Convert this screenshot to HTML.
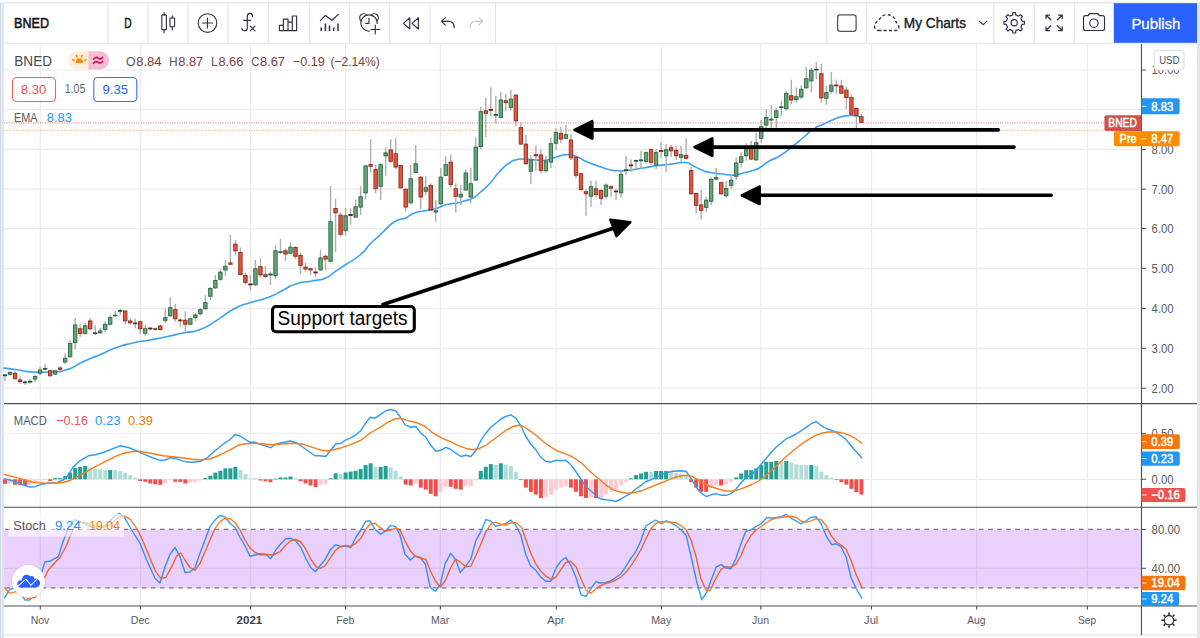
<!DOCTYPE html>
<html><head><meta charset="utf-8"><title>BNED chart</title>
<style>html,body{margin:0;padding:0}body{width:1200px;height:638px;overflow:hidden;background:#e8ebf2;font-family:"Liberation Sans", sans-serif}svg{position:absolute;left:0;top:0;display:block}text{font-family:"Liberation Sans", sans-serif}</style>
</head><body>
<svg width="1200" height="638" viewBox="0 0 1200 638">
<rect x="0" y="0" width="1200" height="638" fill="#ffffff"/>
<rect x="0" y="2.6" width="1.3" height="636" fill="#d3d8e5"/>
<rect x="1.3" y="2.6" width="2.7" height="636" fill="#e2e5ef"/>
<rect x="1197" y="2.4" width="3" height="636" fill="#e3e5eb"/>
<rect x="4" y="634" width="1193" height="2.2" fill="#eceef4"/>
<rect x="4" y="2.4" width="1193" height="1.1" fill="#e4e6ec"/>
<g stroke="#ececee" stroke-width="1.2">
<line x1="40.3" y1="44" x2="40.3" y2="606"/>
<line x1="140.5" y1="44" x2="140.5" y2="606"/>
<line x1="250.6" y1="44" x2="250.6" y2="606"/>
<line x1="345.6" y1="44" x2="345.6" y2="606"/>
<line x1="440.4" y1="44" x2="440.4" y2="606"/>
<line x1="556.2" y1="44" x2="556.2" y2="606"/>
<line x1="661.5" y1="44" x2="661.5" y2="606"/>
<line x1="760.8" y1="44" x2="760.8" y2="606"/>
<line x1="871.5" y1="44" x2="871.5" y2="606"/>
<line x1="976.7" y1="44" x2="976.7" y2="606"/>
<line x1="1087.4" y1="44" x2="1087.4" y2="606"/>
<line x1="4" y1="70" x2="1141.5" y2="70"/>
<line x1="4" y1="109.6" x2="1141.5" y2="109.6"/>
<line x1="4" y1="149.4" x2="1141.5" y2="149.4"/>
<line x1="4" y1="189.2" x2="1141.5" y2="189.2"/>
<line x1="4" y1="228.6" x2="1141.5" y2="228.6"/>
<line x1="4" y1="268.4" x2="1141.5" y2="268.4"/>
<line x1="4" y1="308.5" x2="1141.5" y2="308.5"/>
<line x1="4" y1="348.4" x2="1141.5" y2="348.4"/>
<line x1="4" y1="388.2" x2="1141.5" y2="388.2"/>
<line x1="4" y1="433.3" x2="1141.5" y2="433.3"/>
<line x1="4" y1="479.3" x2="1141.5" y2="479.3"/>
</g>
<rect x="4" y="529.5" width="1137.5" height="58.3" fill="#ead0fc"/>
<g stroke="#d9c4e8" stroke-width="1.2">
<line x1="40.3" y1="530" x2="40.3" y2="587.5"/>
<line x1="140.5" y1="530" x2="140.5" y2="587.5"/>
<line x1="250.6" y1="530" x2="250.6" y2="587.5"/>
<line x1="345.6" y1="530" x2="345.6" y2="587.5"/>
<line x1="440.4" y1="530" x2="440.4" y2="587.5"/>
<line x1="556.2" y1="530" x2="556.2" y2="587.5"/>
<line x1="661.5" y1="530" x2="661.5" y2="587.5"/>
<line x1="760.8" y1="530" x2="760.8" y2="587.5"/>
<line x1="871.5" y1="530" x2="871.5" y2="587.5"/>
<line x1="976.7" y1="530" x2="976.7" y2="587.5"/>
<line x1="1087.4" y1="530" x2="1087.4" y2="587.5"/>
<line x1="4" y1="568.3" x2="1141.5" y2="568.3"/>
</g>
<g stroke="#77747b" stroke-width="1.35" stroke-dasharray="4.7 4.4">
<line x1="5.2" y1="529.3" x2="1141.5" y2="529.3"/>
<line x1="5.2" y1="587.9" x2="1141.5" y2="587.9"/>
</g>
<line x1="4" y1="122.9" x2="1104" y2="122.9" stroke="#ee9a95" stroke-width="1.2" stroke-dasharray="1.2 1.2"/>
<line x1="4" y1="130.3" x2="1114" y2="130.3" stroke="#f7b563" stroke-width="1.1" stroke-dasharray="1.2 1.2"/>
<path fill="none" stroke="#3aa0f5" stroke-width="1.6" stroke-linejoin="round" stroke-linecap="round" d="M4,368 C8.23,368.57 7.03,368.37 16.7,369.7 C26.37,371.03 21.9,371.33 33,372 C44.1,372.67 38.77,372.47 50,371.7 C61.23,370.93 55.7,373.03 66.7,369.7 C77.7,366.37 71.9,366.7 83,361.7 C94.1,356.7 88.77,359.43 100,354.7 C111.23,349.97 105.7,351.4 116.7,347.5 C127.7,343.6 121.9,345.5 133,343 C144.1,340.5 138.77,342.1 150,340 C161.23,337.9 155.7,339.03 166.7,336.7 C177.7,334.37 171.9,335.4 183,333 C194.1,330.6 189.07,333.5 200,329.5 C210.93,325.5 208.03,325.57 215.8,321 C223.57,316.43 216.33,320.3 223.3,315.8 C230.27,311.3 227.53,311.93 236.7,307.5 C245.87,303.07 239.7,306.1 250.8,302.5 C261.9,298.9 259.17,300.87 270,296.7 C280.83,292.53 274.4,294.33 283.3,290 C292.2,285.67 286.7,286.77 296.7,283.7 C306.7,280.63 303.6,282.7 313.3,280.8 C323,278.9 318.57,281.03 325.8,278 C333.03,274.97 328.6,276.03 335,271.7 C341.4,267.37 336.67,270.57 345,265 C353.33,259.43 351.4,262.23 360,255 C368.6,247.77 364.13,249.97 370.8,243.3 C377.47,236.63 374.7,240 380,235 C385.3,230 382.27,232.47 386.7,228.3 C391.13,224.13 388.87,225.53 393.3,222.5 C397.73,219.47 395.83,220.7 400,219.2 C404.17,217.7 400.8,220.13 405.8,218 C410.8,215.87 408.03,215.3 415,212.8 C421.97,210.3 419.47,212 426.7,210.5 C433.93,209 430.03,210.3 436.7,208.3 C443.37,206.3 440.33,206.17 446.7,204.5 C453.07,202.83 449.7,204.53 455.8,203.3 C461.9,202.07 459.17,202.57 465,200.8 C470.83,199.03 468.3,200.77 473.3,198 C478.3,195.23 474.43,197.4 480,192.5 C485.57,187.6 483.33,190.47 490,183.3 C496.67,176.13 493.33,177.93 500,171 C506.67,164.07 504.43,166.27 510,162.5 C515.57,158.73 512.27,160.8 516.7,159.7 C521.13,158.6 517.77,159.2 523.3,159.2 C528.83,159.2 525.5,159.43 533.3,159.7 C541.1,159.97 538.9,160.9 546.7,160 C554.5,159.1 550.03,158.77 556.7,157 C563.37,155.23 560.03,154.8 566.7,154.7 C573.37,154.6 570.03,154.37 576.7,156.7 C583.37,159.03 578.93,158.37 586.7,161.7 C594.47,165.03 592.23,164.03 600,166.7 C607.77,169.37 603.9,168.33 610,169.7 C616.1,171.07 611.63,170.7 618.3,170.8 C624.97,170.9 621.67,170.93 630,170 C638.33,169.07 634.4,169.4 643.3,168 C652.2,166.6 647.8,167.07 656.7,165.8 C665.6,164.53 660.57,165.3 670,164.2 C679.43,163.1 677.77,162.23 685,162.5 C692.23,162.77 686.13,162.5 691.7,165 C697.27,167.5 695.6,167.5 701.7,170 C707.8,172.5 703.9,171.23 710,172.5 C716.1,173.77 713.33,172.97 720,173.8 C726.67,174.63 724.43,174.7 730,175 C735.57,175.3 732.27,175.37 736.7,174.7 C741.13,174.03 738.3,174.3 743.3,173 C748.3,171.7 746.13,172.63 751.7,170.8 C757.27,168.97 754.17,170.77 760,167.5 C765.83,164.23 762.53,164.9 769.2,161 C775.87,157.1 771.97,160.87 780,155.8 C788.03,150.73 785.53,151.9 793.3,145.8 C801.07,139.7 796.63,143.03 803.3,137.5 C809.97,131.97 806.63,133.63 813.3,129.2 C819.97,124.77 816.63,127.37 823.3,124.2 C829.97,121.03 827.17,122.2 833.3,119.7 C839.43,117.2 836.13,118.1 841.7,116.7 C847.27,115.3 845.23,115.73 850,115.5 C854.77,115.27 852.9,115.67 856,116 C859.1,116.33 858.2,116.33 859.3,116.5"/>
<g stroke="#adadad" stroke-width="1.4">
<line x1="5.04" y1="374" x2="5.04" y2="381"/>
<line x1="10.05" y1="370.8" x2="10.05" y2="375.8"/>
<line x1="15.06" y1="371.2" x2="15.06" y2="379.5"/>
<line x1="20.07" y1="376.2" x2="20.07" y2="383.7"/>
<line x1="25.08" y1="380.5" x2="25.08" y2="384.7"/>
<line x1="30.08" y1="379.2" x2="30.08" y2="383.7"/>
<line x1="35.09" y1="375.3" x2="35.09" y2="382"/>
<line x1="40.1" y1="366.7" x2="40.1" y2="375.3"/>
<line x1="45.11" y1="364.2" x2="45.11" y2="369.7"/>
<line x1="50.12" y1="369.7" x2="50.12" y2="376.7"/>
<line x1="55.12" y1="369.7" x2="55.12" y2="375"/>
<line x1="60.13" y1="366.2" x2="60.13" y2="373.3"/>
<line x1="65.14" y1="353.3" x2="65.14" y2="363.7"/>
<line x1="70.15" y1="340.5" x2="70.15" y2="357.5"/>
<line x1="75.16" y1="318" x2="75.16" y2="349.7"/>
<line x1="80.16" y1="323.8" x2="80.16" y2="336.7"/>
<line x1="85.17" y1="322.8" x2="85.17" y2="334.5"/>
<line x1="90.18" y1="318" x2="90.18" y2="330.5"/>
<line x1="95.19" y1="325.3" x2="95.19" y2="335"/>
<line x1="100.2" y1="328" x2="100.2" y2="333.8"/>
<line x1="105.2" y1="321.2" x2="105.2" y2="332.5"/>
<line x1="110.21" y1="315.3" x2="110.21" y2="325.3"/>
<line x1="115.22" y1="311.2" x2="115.22" y2="316.7"/>
<line x1="120.23" y1="308.7" x2="120.23" y2="315"/>
<line x1="125.24" y1="310" x2="125.24" y2="324.2"/>
<line x1="130.24" y1="318" x2="130.24" y2="324.7"/>
<line x1="135.25" y1="318.8" x2="135.25" y2="328.3"/>
<line x1="140.26" y1="320.5" x2="140.26" y2="334.2"/>
<line x1="145.27" y1="324.7" x2="145.27" y2="335.8"/>
<line x1="150.28" y1="327" x2="150.28" y2="330.3"/>
<line x1="155.28" y1="327.5" x2="155.28" y2="330.5"/>
<line x1="160.29" y1="325" x2="160.29" y2="330.5"/>
<line x1="165.3" y1="308.8" x2="165.3" y2="323.3"/>
<line x1="170.31" y1="297.2" x2="170.31" y2="316.7"/>
<line x1="175.32" y1="303.8" x2="175.32" y2="321.7"/>
<line x1="180.32" y1="318.3" x2="180.32" y2="326.7"/>
<line x1="185.33" y1="311.3" x2="185.33" y2="330.8"/>
<line x1="190.34" y1="317.5" x2="190.34" y2="325.3"/>
<line x1="195.35" y1="313.3" x2="195.35" y2="321.2"/>
<line x1="200.36" y1="308.3" x2="200.36" y2="315.5"/>
<line x1="205.36" y1="295" x2="205.36" y2="309.7"/>
<line x1="210.37" y1="287" x2="210.37" y2="300"/>
<line x1="215.38" y1="275" x2="215.38" y2="289.2"/>
<line x1="220.39" y1="269.2" x2="220.39" y2="280.8"/>
<line x1="225.4" y1="260" x2="225.4" y2="275.8"/>
<line x1="230.4" y1="235" x2="230.4" y2="265"/>
<line x1="235.41" y1="240" x2="235.41" y2="255.5"/>
<line x1="240.42" y1="247.5" x2="240.42" y2="275.3"/>
<line x1="245.43" y1="272.5" x2="245.43" y2="284.7"/>
<line x1="250.44" y1="275" x2="250.44" y2="290.3"/>
<line x1="255.44" y1="260" x2="255.44" y2="285.8"/>
<line x1="260.45" y1="258.3" x2="260.45" y2="277.5"/>
<line x1="265.46" y1="265.8" x2="265.46" y2="278"/>
<line x1="270.47" y1="271.7" x2="270.47" y2="285"/>
<line x1="275.48" y1="245.3" x2="275.48" y2="279.2"/>
<line x1="280.48" y1="238.8" x2="280.48" y2="253.7"/>
<line x1="285.49" y1="248.8" x2="285.49" y2="260.8"/>
<line x1="290.5" y1="242.5" x2="290.5" y2="254.2"/>
<line x1="295.51" y1="246.2" x2="295.51" y2="259.2"/>
<line x1="300.52" y1="252.5" x2="300.52" y2="274.2"/>
<line x1="305.52" y1="262.5" x2="305.52" y2="271.7"/>
<line x1="310.53" y1="267.5" x2="310.53" y2="275"/>
<line x1="315.54" y1="267.5" x2="315.54" y2="277.5"/>
<line x1="320.55" y1="249.5" x2="320.55" y2="270.8"/>
<line x1="325.56" y1="254.5" x2="325.56" y2="270"/>
<line x1="330.56" y1="186.3" x2="330.56" y2="262.2"/>
<line x1="335.57" y1="198.7" x2="335.57" y2="252"/>
<line x1="340.58" y1="212.2" x2="340.58" y2="236.3"/>
<line x1="345.59" y1="207.8" x2="345.59" y2="235.8"/>
<line x1="350.6" y1="208.3" x2="350.6" y2="224.7"/>
<line x1="355.6" y1="199.7" x2="355.6" y2="217.8"/>
<line x1="360.61" y1="186.3" x2="360.61" y2="215"/>
<line x1="365.62" y1="165" x2="365.62" y2="199.2"/>
<line x1="370.63" y1="139.2" x2="370.63" y2="172.5"/>
<line x1="375.64" y1="165" x2="375.64" y2="193.3"/>
<line x1="380.64" y1="163.3" x2="380.64" y2="200"/>
<line x1="385.65" y1="147.2" x2="385.65" y2="175.8"/>
<line x1="390.66" y1="139.2" x2="390.66" y2="162.5"/>
<line x1="395.67" y1="138" x2="395.67" y2="169.2"/>
<line x1="400.68" y1="164.7" x2="400.68" y2="188.7"/>
<line x1="405.68" y1="188.3" x2="405.68" y2="211.7"/>
<line x1="410.69" y1="165" x2="410.69" y2="203.7"/>
<line x1="415.7" y1="145" x2="415.7" y2="173.3"/>
<line x1="420.71" y1="176.2" x2="420.71" y2="209.2"/>
<line x1="425.72" y1="176.3" x2="425.72" y2="195.3"/>
<line x1="430.72" y1="183.3" x2="430.72" y2="210.8"/>
<line x1="435.73" y1="199.7" x2="435.73" y2="221.7"/>
<line x1="440.74" y1="168" x2="440.74" y2="204.7"/>
<line x1="445.75" y1="156.3" x2="445.75" y2="176.3"/>
<line x1="450.76" y1="154.2" x2="450.76" y2="187.5"/>
<line x1="455.76" y1="183.3" x2="455.76" y2="212.5"/>
<line x1="460.77" y1="185" x2="460.77" y2="205"/>
<line x1="465.78" y1="169.2" x2="465.78" y2="190.8"/>
<line x1="470.79" y1="167.5" x2="470.79" y2="203.3"/>
<line x1="475.8" y1="137.5" x2="475.8" y2="181"/>
<line x1="480.8" y1="106.7" x2="480.8" y2="149.5"/>
<line x1="485.81" y1="98" x2="485.81" y2="137.2"/>
<line x1="490.82" y1="87.5" x2="490.82" y2="116.3"/>
<line x1="495.83" y1="95.8" x2="495.83" y2="123.7"/>
<line x1="500.84" y1="92" x2="500.84" y2="118.3"/>
<line x1="505.84" y1="93.8" x2="505.84" y2="111.3"/>
<line x1="510.85" y1="89.7" x2="510.85" y2="110.5"/>
<line x1="515.86" y1="94.2" x2="515.86" y2="126.3"/>
<line x1="520.87" y1="123" x2="520.87" y2="145"/>
<line x1="525.88" y1="135" x2="525.88" y2="164.7"/>
<line x1="530.88" y1="155.3" x2="530.88" y2="184.2"/>
<line x1="535.89" y1="145.3" x2="535.89" y2="170.8"/>
<line x1="540.9" y1="149.2" x2="540.9" y2="173.3"/>
<line x1="545.91" y1="155.8" x2="545.91" y2="172.5"/>
<line x1="550.92" y1="137.5" x2="550.92" y2="168.3"/>
<line x1="555.92" y1="128.3" x2="555.92" y2="150"/>
<line x1="560.93" y1="126.7" x2="560.93" y2="143.3"/>
<line x1="565.94" y1="125" x2="565.94" y2="139.2"/>
<line x1="570.95" y1="134.2" x2="570.95" y2="160"/>
<line x1="575.96" y1="155.8" x2="575.96" y2="178.3"/>
<line x1="580.96" y1="173" x2="580.96" y2="190.5"/>
<line x1="585.97" y1="189.2" x2="585.97" y2="215.8"/>
<line x1="590.98" y1="180.8" x2="590.98" y2="206.7"/>
<line x1="595.99" y1="180.8" x2="595.99" y2="197.5"/>
<line x1="601" y1="189.2" x2="601" y2="205"/>
<line x1="606" y1="183.3" x2="606" y2="199.2"/>
<line x1="611.01" y1="185.3" x2="611.01" y2="196.7"/>
<line x1="616.02" y1="189.2" x2="616.02" y2="200"/>
<line x1="621.03" y1="170" x2="621.03" y2="197.5"/>
<line x1="626.04" y1="155.8" x2="626.04" y2="175"/>
<line x1="631.04" y1="159.2" x2="631.04" y2="171.7"/>
<line x1="636.05" y1="160" x2="636.05" y2="168.7"/>
<line x1="641.06" y1="150.8" x2="641.06" y2="168.7"/>
<line x1="646.07" y1="151.3" x2="646.07" y2="163"/>
<line x1="651.08" y1="148.8" x2="651.08" y2="165"/>
<line x1="656.08" y1="149.2" x2="656.08" y2="169.2"/>
<line x1="661.09" y1="142.2" x2="661.09" y2="158.3"/>
<line x1="666.1" y1="144.2" x2="666.1" y2="171.7"/>
<line x1="671.11" y1="145" x2="671.11" y2="156.7"/>
<line x1="676.12" y1="145.8" x2="676.12" y2="160"/>
<line x1="681.12" y1="145.8" x2="681.12" y2="161.7"/>
<line x1="686.13" y1="138.3" x2="686.13" y2="159.2"/>
<line x1="691.14" y1="166.7" x2="691.14" y2="194.7"/>
<line x1="696.15" y1="192.5" x2="696.15" y2="213.3"/>
<line x1="701.16" y1="189.7" x2="701.16" y2="219.2"/>
<line x1="706.16" y1="197" x2="706.16" y2="212.5"/>
<line x1="711.17" y1="177.5" x2="711.17" y2="204.7"/>
<line x1="716.18" y1="168" x2="716.18" y2="180"/>
<line x1="721.19" y1="181.7" x2="721.19" y2="194.7"/>
<line x1="726.2" y1="181.3" x2="726.2" y2="197.5"/>
<line x1="731.2" y1="175.5" x2="731.2" y2="189.2"/>
<line x1="736.21" y1="157.5" x2="736.21" y2="180"/>
<line x1="741.22" y1="151.7" x2="741.22" y2="167.5"/>
<line x1="746.23" y1="143.3" x2="746.23" y2="160.8"/>
<line x1="751.24" y1="140.8" x2="751.24" y2="160"/>
<line x1="756.24" y1="132.8" x2="756.24" y2="160.8"/>
<line x1="761.25" y1="120" x2="761.25" y2="142.8"/>
<line x1="766.26" y1="109.2" x2="766.26" y2="130.8"/>
<line x1="771.27" y1="105" x2="771.27" y2="131.7"/>
<line x1="776.28" y1="108.3" x2="776.28" y2="130.8"/>
<line x1="781.28" y1="101.3" x2="781.28" y2="115.8"/>
<line x1="786.29" y1="91.3" x2="786.29" y2="110.3"/>
<line x1="791.3" y1="79.7" x2="791.3" y2="104.2"/>
<line x1="796.31" y1="87.5" x2="796.31" y2="102.5"/>
<line x1="801.32" y1="85.3" x2="801.32" y2="98.7"/>
<line x1="806.32" y1="67.2" x2="806.32" y2="88.8"/>
<line x1="811.33" y1="68" x2="811.33" y2="92.5"/>
<line x1="816.34" y1="62.2" x2="816.34" y2="79.2"/>
<line x1="821.35" y1="63.7" x2="821.35" y2="102.5"/>
<line x1="826.36" y1="85.8" x2="826.36" y2="104.7"/>
<line x1="831.36" y1="72" x2="831.36" y2="93.8"/>
<line x1="836.37" y1="79.7" x2="836.37" y2="93.7"/>
<line x1="841.38" y1="79.7" x2="841.38" y2="94.2"/>
<line x1="846.39" y1="86.2" x2="846.39" y2="109.2"/>
<line x1="851.4" y1="94.5" x2="851.4" y2="115"/>
<line x1="856.4" y1="107.5" x2="856.4" y2="128.3"/>
<line x1="861.41" y1="114.2" x2="861.41" y2="123.3"/>
</g>
<g fill="#63a678" stroke="#2c6641" stroke-width="0.9">
<rect x="3.34" y="374.9" width="3.4" height="0.8" fill="#1d5632" stroke="#1d5632"/>
<rect x="8.35" y="372.45" width="3.4" height="1.8"/>
<rect x="23.38" y="381.95" width="3.4" height="0.8" fill="#1d5632" stroke="#1d5632"/>
<rect x="28.38" y="381.25" width="3.4" height="0.8" fill="#1d5632" stroke="#1d5632"/>
<rect x="33.39" y="376.45" width="3.4" height="2.6"/>
<rect x="38.4" y="369.95" width="3.4" height="3.3"/>
<rect x="43.41" y="368.4" width="3.4" height="0.8" fill="#1d5632" stroke="#1d5632"/>
<rect x="53.42" y="370.75" width="3.4" height="3.3"/>
<rect x="63.44" y="358.25" width="3.4" height="3.8"/>
<rect x="68.45" y="343.45" width="3.4" height="13.3"/>
<rect x="73.46" y="324.95" width="3.4" height="17.6"/>
<rect x="83.47" y="325.75" width="3.4" height="7.6"/>
<rect x="93.49" y="332.85" width="3.4" height="0.8" fill="#1d5632" stroke="#1d5632"/>
<rect x="98.5" y="330.95" width="3.4" height="1.9"/>
<rect x="103.5" y="324.25" width="3.4" height="5.3"/>
<rect x="108.51" y="317.65" width="3.4" height="6.6"/>
<rect x="113.52" y="315.15" width="3.4" height="0.7"/>
<rect x="118.53" y="310.4" width="3.4" height="0.8" fill="#1d5632" stroke="#1d5632"/>
<rect x="133.55" y="323" width="3.4" height="0.8" fill="#1d5632" stroke="#1d5632"/>
<rect x="143.57" y="328.75" width="3.4" height="4.5"/>
<rect x="153.58" y="328.65" width="3.4" height="0.9"/>
<rect x="163.6" y="317.65" width="3.4" height="2.7"/>
<rect x="168.61" y="307.65" width="3.4" height="8.2"/>
<rect x="188.64" y="318.75" width="3.4" height="5.5"/>
<rect x="193.65" y="314.95" width="3.4" height="2.6"/>
<rect x="198.66" y="309.65" width="3.4" height="4.1"/>
<rect x="203.66" y="302.65" width="3.4" height="6.1"/>
<rect x="208.67" y="288.45" width="3.4" height="7.8"/>
<rect x="213.68" y="280.45" width="3.4" height="7.4"/>
<rect x="218.69" y="272.15" width="3.4" height="7.1"/>
<rect x="223.7" y="266.25" width="3.4" height="3.8"/>
<rect x="253.74" y="268.75" width="3.4" height="16.1"/>
<rect x="268.77" y="274.1" width="3.4" height="0.8" fill="#1d5632" stroke="#1d5632"/>
<rect x="273.78" y="250.75" width="3.4" height="25"/>
<rect x="278.78" y="251.65" width="3.4" height="0.9"/>
<rect x="288.8" y="247.15" width="3.4" height="6.1"/>
<rect x="318.85" y="257.95" width="3.4" height="11.9"/>
<rect x="328.86" y="221.75" width="3.4" height="39.5"/>
<rect x="343.89" y="215.75" width="3.4" height="15"/>
<rect x="353.9" y="206.75" width="3.4" height="10.3"/>
<rect x="358.91" y="196.75" width="3.4" height="10.3"/>
<rect x="363.92" y="165.95" width="3.4" height="26.9"/>
<rect x="378.94" y="164.65" width="3.4" height="21.6"/>
<rect x="383.95" y="152.95" width="3.4" height="2.9"/>
<rect x="408.99" y="178.75" width="3.4" height="24.1"/>
<rect x="414" y="163.75" width="3.4" height="8.6"/>
<rect x="424.02" y="187.65" width="3.4" height="3.6"/>
<rect x="434.03" y="210.75" width="3.4" height="1.3"/>
<rect x="439.04" y="177.15" width="3.4" height="26.6"/>
<rect x="444.05" y="164.65" width="3.4" height="10.7"/>
<rect x="459.07" y="194.25" width="3.4" height="2.8"/>
<rect x="464.08" y="172.95" width="3.4" height="17.1"/>
<rect x="469.09" y="183.75" width="3.4" height="13.3"/>
<rect x="474.1" y="147.15" width="3.4" height="32.9"/>
<rect x="479.1" y="111.65" width="3.4" height="34.9"/>
<rect x="494.13" y="114.45" width="3.4" height="0.8" fill="#1d5632" stroke="#1d5632"/>
<rect x="499.14" y="99.95" width="3.4" height="17.4"/>
<rect x="509.15" y="99.15" width="3.4" height="8.4"/>
<rect x="529.18" y="159.95" width="3.4" height="11.3"/>
<rect x="544.21" y="160.95" width="3.4" height="9.8"/>
<rect x="549.22" y="143.75" width="3.4" height="18.3"/>
<rect x="554.22" y="132.45" width="3.4" height="10.8"/>
<rect x="564.24" y="134.65" width="3.4" height="3.6"/>
<rect x="589.28" y="186.75" width="3.4" height="9.5"/>
<rect x="604.3" y="185.15" width="3.4" height="11.1"/>
<rect x="619.33" y="174.25" width="3.4" height="18.6"/>
<rect x="624.34" y="169.8" width="3.4" height="0.8" fill="#1d5632" stroke="#1d5632"/>
<rect x="634.35" y="160.35" width="3.4" height="0.8" fill="#1d5632" stroke="#1d5632"/>
<rect x="639.36" y="159.9" width="3.4" height="0.8" fill="#1d5632" stroke="#1d5632"/>
<rect x="644.37" y="152.65" width="3.4" height="8.9"/>
<rect x="654.38" y="152.65" width="3.4" height="12.4"/>
<rect x="664.4" y="149.65" width="3.4" height="6.2"/>
<rect x="679.42" y="154.65" width="3.4" height="2.7"/>
<rect x="704.46" y="200.15" width="3.4" height="7.2"/>
<rect x="709.47" y="179.25" width="3.4" height="22"/>
<rect x="714.48" y="177.65" width="3.4" height="1.4"/>
<rect x="724.5" y="188.45" width="3.4" height="7.3"/>
<rect x="729.5" y="180.15" width="3.4" height="5.2"/>
<rect x="734.51" y="162.95" width="3.4" height="13.3"/>
<rect x="739.52" y="156.75" width="3.4" height="5.6"/>
<rect x="744.53" y="149.65" width="3.4" height="6.1"/>
<rect x="754.54" y="142.75" width="3.4" height="17.1"/>
<rect x="759.55" y="126.75" width="3.4" height="11.6"/>
<rect x="764.56" y="117.45" width="3.4" height="7.6"/>
<rect x="769.57" y="119.15" width="3.4" height="0.9"/>
<rect x="774.58" y="110.75" width="3.4" height="6.8"/>
<rect x="779.58" y="106.85" width="3.4" height="0.8" fill="#1d5632" stroke="#1d5632"/>
<rect x="784.59" y="93.45" width="3.4" height="15.3"/>
<rect x="794.61" y="96.75" width="3.4" height="2.8"/>
<rect x="799.62" y="89.25" width="3.4" height="7.8"/>
<rect x="804.62" y="78.75" width="3.4" height="9.1"/>
<rect x="809.63" y="70.15" width="3.4" height="10.7"/>
<rect x="814.64" y="69.2" width="3.4" height="0.8" fill="#1d5632" stroke="#1d5632"/>
<rect x="824.66" y="92.65" width="3.4" height="5.6"/>
<rect x="829.66" y="85.15" width="3.4" height="6.1"/>
</g>
<g fill="#e5553d" stroke="#8b2b1c" stroke-width="0.9">
<rect x="13.36" y="373.25" width="3.4" height="5.5"/>
<rect x="18.37" y="379.95" width="3.4" height="1.6"/>
<rect x="48.42" y="370.75" width="3.4" height="5"/>
<rect x="58.43" y="367.95" width="3.4" height="1.3"/>
<rect x="78.46" y="328.75" width="3.4" height="4.6"/>
<rect x="88.48" y="320.95" width="3.4" height="7.8"/>
<rect x="123.54" y="310.95" width="3.4" height="9.9"/>
<rect x="128.54" y="320.95" width="3.4" height="1.9"/>
<rect x="138.56" y="321.75" width="3.4" height="7"/>
<rect x="148.58" y="328.1" width="3.4" height="0.8" fill="#6a1710" stroke="#6a1710"/>
<rect x="158.59" y="325.95" width="3.4" height="3.6"/>
<rect x="173.62" y="309.65" width="3.4" height="9.1"/>
<rect x="178.62" y="319.95" width="3.4" height="0.9"/>
<rect x="183.63" y="320.15" width="3.4" height="4.1"/>
<rect x="228.7" y="262.95" width="3.4" height="1.3"/>
<rect x="233.71" y="244.15" width="3.4" height="6.7"/>
<rect x="238.72" y="252.45" width="3.4" height="22.1"/>
<rect x="243.73" y="275.45" width="3.4" height="6.9"/>
<rect x="248.74" y="284" width="3.4" height="0.8" fill="#6a1710" stroke="#6a1710"/>
<rect x="258.75" y="266.65" width="3.4" height="8.2"/>
<rect x="263.76" y="274.65" width="3.4" height="1.9"/>
<rect x="283.79" y="250.75" width="3.4" height="3.3"/>
<rect x="293.81" y="247.45" width="3.4" height="8.8"/>
<rect x="298.82" y="255.45" width="3.4" height="9.9"/>
<rect x="303.82" y="267.15" width="3.4" height="1.9"/>
<rect x="308.83" y="268.75" width="3.4" height="1.1"/>
<rect x="313.84" y="272" width="3.4" height="0.8" fill="#6a1710" stroke="#6a1710"/>
<rect x="323.86" y="256.25" width="3.4" height="2.8"/>
<rect x="333.87" y="208.45" width="3.4" height="4.4"/>
<rect x="338.88" y="215.15" width="3.4" height="19.1"/>
<rect x="348.9" y="214.6" width="3.4" height="0.8" fill="#6a1710" stroke="#6a1710"/>
<rect x="368.93" y="164.65" width="3.4" height="1.6"/>
<rect x="373.94" y="169.65" width="3.4" height="19.1"/>
<rect x="388.96" y="149.95" width="3.4" height="11.3"/>
<rect x="393.97" y="153.75" width="3.4" height="13.3"/>
<rect x="398.98" y="165.45" width="3.4" height="22.4"/>
<rect x="403.98" y="189.25" width="3.4" height="17.8"/>
<rect x="419.01" y="177.15" width="3.4" height="19.9"/>
<rect x="429.02" y="185.45" width="3.4" height="24.6"/>
<rect x="449.06" y="162.15" width="3.4" height="22.4"/>
<rect x="454.06" y="188.75" width="3.4" height="7.5"/>
<rect x="484.11" y="110.75" width="3.4" height="2.6"/>
<rect x="489.12" y="109.45" width="3.4" height="0.8" fill="#6a1710" stroke="#6a1710"/>
<rect x="504.14" y="100.75" width="3.4" height="1.8"/>
<rect x="514.16" y="95.15" width="3.4" height="25.7"/>
<rect x="519.17" y="127.65" width="3.4" height="16.4"/>
<rect x="524.18" y="144.15" width="3.4" height="19.6"/>
<rect x="534.19" y="154.65" width="3.4" height="1.1"/>
<rect x="539.2" y="154.95" width="3.4" height="15.4"/>
<rect x="559.23" y="133.45" width="3.4" height="5.6"/>
<rect x="569.25" y="139.95" width="3.4" height="17.9"/>
<rect x="574.26" y="157.15" width="3.4" height="18.1"/>
<rect x="579.26" y="173.75" width="3.4" height="15.8"/>
<rect x="584.27" y="191.75" width="3.4" height="2"/>
<rect x="594.29" y="188.75" width="3.4" height="5.8"/>
<rect x="599.3" y="190.45" width="3.4" height="7.9"/>
<rect x="609.31" y="186.75" width="3.4" height="1.5"/>
<rect x="614.32" y="191" width="3.4" height="0.8" fill="#6a1710" stroke="#6a1710"/>
<rect x="629.34" y="164.95" width="3.4" height="0.8" fill="#6a1710" stroke="#6a1710"/>
<rect x="649.38" y="149.65" width="3.4" height="12.7"/>
<rect x="659.39" y="150.45" width="3.4" height="1.1"/>
<rect x="669.41" y="147.65" width="3.4" height="3.2"/>
<rect x="674.42" y="150.45" width="3.4" height="5.3"/>
<rect x="684.43" y="155.45" width="3.4" height="2.9"/>
<rect x="689.44" y="170.45" width="3.4" height="23.3"/>
<rect x="694.45" y="193.45" width="3.4" height="11.9"/>
<rect x="699.46" y="204.95" width="3.4" height="5.4"/>
<rect x="719.49" y="182.65" width="3.4" height="11.1"/>
<rect x="749.54" y="148.75" width="3.4" height="10.3"/>
<rect x="789.6" y="95.75" width="3.4" height="4.3"/>
<rect x="819.65" y="73.75" width="3.4" height="24.1"/>
<rect x="834.67" y="84.95" width="3.4" height="0.9"/>
<rect x="839.68" y="85.95" width="3.4" height="7.3"/>
<rect x="844.69" y="90.15" width="3.4" height="7.4"/>
<rect x="849.7" y="97.65" width="3.4" height="16.6"/>
<rect x="854.7" y="108.45" width="3.4" height="6.9"/>
<rect x="859.71" y="116.65" width="3.4" height="5.7"/>
</g>
<g fill="#22a094"><rect x="53.12" y="478.1" width="4" height="1.2"/><rect x="58.13" y="478.1" width="4" height="1.2"/><rect x="63.14" y="476" width="4" height="3.3"/><rect x="68.15" y="472.6" width="4" height="6.7"/><rect x="73.16" y="468.1" width="4" height="11.2"/><rect x="78.16" y="466.8" width="4" height="12.5"/><rect x="83.17" y="466" width="4" height="13.3"/><rect x="108.21" y="470.1" width="4" height="9.2"/><rect x="203.36" y="478" width="4" height="1.3"/><rect x="208.37" y="475.8" width="4" height="3.5"/><rect x="213.38" y="472.6" width="4" height="6.7"/><rect x="218.39" y="470.8" width="4" height="8.5"/><rect x="223.4" y="468.3" width="4" height="11"/><rect x="228.4" y="468.3" width="4" height="11"/><rect x="233.41" y="466.8" width="4" height="12.5"/><rect x="273.48" y="478.7" width="4" height="0.8"/><rect x="278.48" y="477.5" width="4" height="1.8"/><rect x="283.49" y="477.6" width="4" height="1.7"/><rect x="288.5" y="476.6" width="4" height="2.7"/><rect x="328.56" y="478.3" width="4" height="1"/><rect x="333.57" y="473.3" width="4" height="6"/><rect x="343.59" y="472.5" width="4" height="6.8"/><rect x="348.6" y="471.6" width="4" height="7.7"/><rect x="353.6" y="470.8" width="4" height="8.5"/><rect x="358.61" y="469.1" width="4" height="10.2"/><rect x="363.62" y="465.1" width="4" height="14.2"/><rect x="368.63" y="463.3" width="4" height="16"/><rect x="378.64" y="466.8" width="4" height="12.5"/><rect x="383.65" y="466" width="4" height="13.3"/><rect x="478.8" y="471" width="4" height="8.3"/><rect x="483.81" y="466.8" width="4" height="12.5"/><rect x="488.82" y="464.1" width="4" height="15.2"/><rect x="498.84" y="463.3" width="4" height="16"/><rect x="629.04" y="478.3" width="4" height="1"/><rect x="634.05" y="475.1" width="4" height="4.2"/><rect x="639.06" y="473.5" width="4" height="5.8"/><rect x="644.07" y="471.8" width="4" height="7.5"/><rect x="654.08" y="471" width="4" height="8.3"/><rect x="659.09" y="471" width="4" height="8.3"/><rect x="664.1" y="471" width="4" height="8.3"/><rect x="734.21" y="477.5" width="4" height="1.8"/><rect x="739.22" y="473.5" width="4" height="5.8"/><rect x="744.23" y="470.1" width="4" height="9.2"/><rect x="749.24" y="470.1" width="4" height="9.2"/><rect x="754.24" y="468.5" width="4" height="10.8"/><rect x="759.25" y="465.1" width="4" height="14.2"/><rect x="764.26" y="461.8" width="4" height="17.5"/><rect x="769.27" y="461.8" width="4" height="17.5"/><rect x="774.28" y="461" width="4" height="18.3"/><rect x="784.29" y="461" width="4" height="18.3"/><rect x="809.33" y="465.1" width="4" height="14.2"/></g>
<g fill="#b0ddd8"><rect x="88.18" y="467.6" width="4" height="11.7"/><rect x="93.19" y="468.8" width="4" height="10.5"/><rect x="98.2" y="469.3" width="4" height="10"/><rect x="103.2" y="470.1" width="4" height="9.2"/><rect x="113.22" y="470.1" width="4" height="9.2"/><rect x="118.23" y="471" width="4" height="8.3"/><rect x="123.24" y="472.6" width="4" height="6.7"/><rect x="128.24" y="475.1" width="4" height="4.2"/><rect x="133.25" y="477.6" width="4" height="1.7"/><rect x="238.42" y="470" width="4" height="9.3"/><rect x="243.43" y="474.1" width="4" height="5.2"/><rect x="248.44" y="478.3" width="4" height="1"/><rect x="253.44" y="478.3" width="4" height="1"/><rect x="293.51" y="478.3" width="4" height="1"/><rect x="338.58" y="474.1" width="4" height="5.2"/><rect x="373.64" y="466.8" width="4" height="12.5"/><rect x="388.66" y="467.5" width="4" height="11.8"/><rect x="393.67" y="470.8" width="4" height="8.5"/><rect x="398.68" y="476.6" width="4" height="2.7"/><rect x="493.83" y="465" width="4" height="14.3"/><rect x="503.84" y="465" width="4" height="14.3"/><rect x="508.85" y="466" width="4" height="13.3"/><rect x="513.86" y="471.6" width="4" height="7.7"/><rect x="649.08" y="471.8" width="4" height="7.5"/><rect x="669.11" y="472.1" width="4" height="7.2"/><rect x="674.12" y="473" width="4" height="6.3"/><rect x="679.12" y="473.8" width="4" height="5.5"/><rect x="684.13" y="475.5" width="4" height="3.8"/><rect x="779.28" y="461.3" width="4" height="18"/><rect x="789.3" y="462.6" width="4" height="16.7"/><rect x="794.31" y="464.3" width="4" height="15"/><rect x="799.32" y="465.1" width="4" height="14.2"/><rect x="804.32" y="465.1" width="4" height="14.2"/><rect x="814.34" y="466" width="4" height="13.3"/><rect x="819.35" y="471.6" width="4" height="7.7"/><rect x="824.36" y="475.1" width="4" height="4.2"/><rect x="829.36" y="477.6" width="4" height="1.7"/></g>
<g fill="#ee4f4c"><rect x="3.04" y="479.3" width="4" height="4.5"/><rect x="13.06" y="479.3" width="4" height="5.5"/><rect x="18.07" y="479.3" width="4" height="5.5"/><rect x="23.08" y="479.3" width="4" height="5.8"/><rect x="48.12" y="479.3" width="4" height="1.7"/><rect x="138.26" y="479.3" width="4" height="1.7"/><rect x="143.27" y="479.3" width="4" height="2.5"/><rect x="148.28" y="479.3" width="4" height="4.2"/><rect x="153.28" y="479.3" width="4" height="5"/><rect x="158.29" y="479.3" width="4" height="5.5"/><rect x="173.32" y="479.3" width="4" height="2.5"/><rect x="178.32" y="479.3" width="4" height="2.5"/><rect x="183.33" y="479.3" width="4" height="4.2"/><rect x="258.45" y="479.3" width="4" height="1.2"/><rect x="263.46" y="479.3" width="4" height="2"/><rect x="268.47" y="479.3" width="4" height="2.8"/><rect x="298.52" y="479.3" width="4" height="2"/><rect x="303.52" y="479.3" width="4" height="4.2"/><rect x="308.53" y="479.3" width="4" height="6.2"/><rect x="313.54" y="479.3" width="4" height="7.8"/><rect x="403.68" y="479.3" width="4" height="5.3"/><rect x="408.69" y="479.3" width="4" height="6.2"/><rect x="418.71" y="479.3" width="4" height="8.3"/><rect x="423.72" y="479.3" width="4" height="10.3"/><rect x="428.72" y="479.3" width="4" height="14.5"/><rect x="433.73" y="479.3" width="4" height="17"/><rect x="448.76" y="479.3" width="4" height="7.5"/><rect x="453.76" y="479.3" width="4" height="9.5"/><rect x="458.77" y="479.3" width="4" height="10.3"/><rect x="518.87" y="479.3" width="4" height="0.8"/><rect x="523.88" y="479.3" width="4" height="8.3"/><rect x="528.88" y="479.3" width="4" height="12.5"/><rect x="533.89" y="479.3" width="4" height="15.3"/><rect x="538.9" y="479.3" width="4" height="18.7"/><rect x="568.95" y="479.3" width="4" height="8.3"/><rect x="573.96" y="479.3" width="4" height="12.5"/><rect x="578.96" y="479.3" width="4" height="17"/><rect x="583.97" y="479.3" width="4" height="18.7"/><rect x="593.99" y="479.3" width="4" height="18.7"/><rect x="689.14" y="479.3" width="4" height="2.8"/><rect x="694.15" y="479.3" width="4" height="8.3"/><rect x="699.16" y="479.3" width="4" height="12.5"/><rect x="704.16" y="479.3" width="4" height="12.5"/><rect x="719.19" y="479.3" width="4" height="6.2"/><rect x="834.37" y="479.3" width="4" height="0.8"/><rect x="839.38" y="479.3" width="4" height="2.8"/><rect x="844.39" y="479.3" width="4" height="5.3"/><rect x="849.4" y="479.3" width="4" height="9.5"/><rect x="854.4" y="479.3" width="4" height="12.8"/><rect x="859.41" y="479.3" width="4" height="15.3"/></g>
<g fill="#ffcbd1"><rect x="8.05" y="479.3" width="4" height="4.2"/><rect x="28.08" y="479.3" width="4" height="5.3"/><rect x="33.09" y="479.3" width="4" height="2.5"/><rect x="38.1" y="479.3" width="4" height="1.3"/><rect x="43.11" y="479.3" width="4" height="0.8"/><rect x="163.3" y="479.3" width="4" height="3.8"/><rect x="168.31" y="479.3" width="4" height="0.8"/><rect x="188.34" y="479.3" width="4" height="3.3"/><rect x="193.35" y="479.3" width="4" height="3"/><rect x="198.36" y="479.3" width="4" height="1.2"/><rect x="318.55" y="479.3" width="4" height="5.8"/><rect x="323.56" y="479.3" width="4" height="5"/><rect x="413.7" y="479.3" width="4" height="4.2"/><rect x="438.74" y="479.3" width="4" height="12.5"/><rect x="443.75" y="479.3" width="4" height="7.5"/><rect x="463.78" y="479.3" width="4" height="6.7"/><rect x="468.79" y="479.3" width="4" height="7"/><rect x="473.8" y="479.3" width="4" height="1.2"/><rect x="543.91" y="479.3" width="4" height="17.8"/><rect x="548.92" y="479.3" width="4" height="15.3"/><rect x="553.92" y="479.3" width="4" height="10.3"/><rect x="558.93" y="479.3" width="4" height="8.3"/><rect x="563.94" y="479.3" width="4" height="7"/><rect x="588.98" y="479.3" width="4" height="18.2"/><rect x="599" y="479.3" width="4" height="18.2"/><rect x="604" y="479.3" width="4" height="15.3"/><rect x="609.01" y="479.3" width="4" height="12.5"/><rect x="614.02" y="479.3" width="4" height="10.3"/><rect x="619.03" y="479.3" width="4" height="6.2"/><rect x="624.04" y="479.3" width="4" height="2.5"/><rect x="709.17" y="479.3" width="4" height="8.7"/><rect x="714.18" y="479.3" width="4" height="6.2"/><rect x="724.2" y="479.3" width="4" height="5"/><rect x="729.2" y="479.3" width="4" height="2.5"/></g>
<polyline fill="none" stroke="#2f9bf4" stroke-width="1.4" stroke-linejoin="round" points="4.2,478.7 10,480 16.7,482.5 23.3,485 30,487 35,486.7 41.7,484.2 48.3,483.3 56.7,482.8 63.3,480 68.3,475 73.3,466.7 80,460.8 88.3,455.8 95,454.7 103.3,452.5 111.7,449.2 120,445.8 128.3,447.5 136.7,450.8 145,454.7 153.3,458 160,460.3 165,460 170,457.8 176.7,458.8 185,461.7 191.7,462.2 200,461.5 206.7,458.2 215,450.7 225,442.8 230,439.5 235,434.5 240,436 250,442.3 255,442.3 263.3,445.3 270.8,447.7 275,444.5 281.7,442.7 290,441 296.7,442.8 305,448.7 315,455.7 320,455.7 325.8,456.5 331.7,449 335.8,443.7 340.8,443.5 345.8,439.8 350.8,437.8 355.8,434.8 360.8,430.7 365.8,422.8 370,417.3 375,418.2 380,414.8 385.8,410.7 390.8,409.5 395.8,411 400,416.5 405,424.8 410.8,427.3 415.8,426.5 420.8,433.2 425.8,437.3 430.8,445.3 435.8,451.2 440.8,450.3 445.8,447.3 450,449 455.8,453.2 460.8,456.5 465.8,455.3 470.8,456.5 475.8,450.7 480.8,440.7 485.8,433.2 490.8,427.3 495.8,423.2 500.8,419 505.8,416.5 510.8,414.8 515.8,418.2 520.8,425.7 525.8,436.5 530.8,444 535.8,449.8 540.8,457.3 545.8,461.5 550.8,462 555.8,460.3 560.8,460.7 565.8,460.3 570.8,464.8 575.8,471.5 580.8,479 585.8,486.5 590.8,490.7 595.8,495.3 600,498.7 605.8,499.8 610.8,500.3 615.8,501.5 620.8,499 625.8,496.2 630.8,493.2 635.8,489 640.8,485.7 645.7,481.5 650.7,479.8 655.7,477.3 661.3,474.8 666.3,472.7 671.3,471.5 676.3,471 681.3,470.7 686.3,471.5 691.3,479 696.3,487.3 701.2,493.2 706.2,496.5 711.2,494.8 716.2,493.7 721.2,495.3 726,495.3 731,493.7 736,489 740.8,483.2 745.8,477.8 750.8,475.2 755.8,470.7 760.8,464.8 766.3,458.2 771.3,452.3 776.3,447 781.3,442.8 786.3,438.7 791.3,436.5 796.3,434 801.3,430.7 806.2,427.3 811.2,423.7 816.2,421.5 821.2,425.7 826.2,428.5 831.2,430.2 836.2,432.3 841,435.7 846,439.5 851,445.7 856,451.5 862.2,458.2"/>
<polyline fill="none" stroke="#f67c1d" stroke-width="1.4" stroke-linejoin="round" points="4.2,474.5 13.3,476.7 23.3,479.7 33.3,482.2 43.3,483 53.3,483.3 63.3,482.5 70,480.5 78.3,476.3 86.7,471.7 96.7,465.8 106.7,460.8 116.7,455.8 123.3,453.3 131.7,451.7 138.3,451.3 146.7,452.5 155,454.2 163.3,455.8 173.3,456.7 183.3,458 191.7,459.2 200,459.8 210,459 220,454.8 230,449.8 238.3,445.3 245,443.7 255,443.2 263.3,444 271.7,444.8 281.7,444 293.3,443.2 303.3,444.3 313.3,447.7 321.7,450.3 327.5,451 333.3,449.8 341.7,447.7 350,444.8 360,440.7 366.7,435.7 371.7,432 380,427.3 388.3,422 395,419 400,418.2 408.3,420.7 416.7,422.7 425,426.5 433.3,433.2 441.7,438.2 450,441.5 458.3,445.7 466.7,448.7 473.3,449.8 480,448.2 486.7,444.8 493.3,439.8 500,434.8 506.7,429.8 513.3,426.5 518.3,425.3 523.3,426.5 530,430.7 536.7,435.7 543.3,441.5 550,446.5 556.7,450.7 563.3,453.2 570,455.7 576.7,459.5 583.3,464.8 590,471.5 596.7,477.3 600,479.8 606.7,485.7 613.3,489.8 620,492 626.7,493.2 633.3,492.8 641.7,490.7 650,487.3 658.3,484 666.7,480.7 675,477.3 681.7,475.7 686.7,475.2 691.7,476.2 698.3,479.8 705,484 711.7,487 718.3,489 725,490.7 731.7,491.2 738.3,489.8 745,487.3 751.7,484.5 758.3,481 765,476.5 773.3,469 781.7,460.7 790,453.2 798.3,446.5 806.7,440.7 815,435.7 821.7,433.2 828.3,432 835,431.8 841.7,432.7 848.3,434.8 855,438.2 862.2,443.5"/>
<clipPath id="inband"><rect x="0" y="529.5" width="1200" height="58.3"/></clipPath>
<clipPath id="outband"><rect x="0" y="500" width="1200" height="29.5"/><rect x="0" y="587.8" width="1200" height="30"/></clipPath>
<polyline fill="none" stroke="#35a0f6" stroke-width="1.4" stroke-linejoin="round" clip-path="url(#outband)" points="4.2,598.3 10,589.2 16.7,587.5 25,600 30,600 40.8,575 45,561.7 50,561.2 58.3,556.7 63.3,540.8 70,524.2 75,519.7 81.7,522.5 88.3,525.8 96.7,528.3 103.3,526.7 113.3,517.5 119.2,513.3 125,518.3 131.7,530 140,543.3 146.7,560 155,578.3 160,583 165,566.7 170,554.2 175,547.5 180,556.7 185,572.5 190,572 195,567.5 200,553.3 205,540 210,526.7 215,520 220,515.5 225,517 230,523.3 235,527.5 240,537.5 245,545.8 250,556.3 255,555 260.8,553.8 265.8,554.2 270.8,558.7 275.8,550 280.8,543.7 285.8,538.8 290.8,538.3 295.8,540.8 300.8,547.5 305.8,558.3 310.8,567.5 315.3,571.7 320,565.8 325,559.7 330.8,549.2 335.8,544.7 340.8,546.7 345.8,545.8 350.8,547.5 355.8,537.5 360.8,530 365.8,521.2 370,520.8 375,529.2 380.8,534.2 385.8,530.8 390.8,525.3 395.8,526.7 400,535 405,554.2 410.3,560 415.3,555.8 420.3,557.5 425.3,564.2 430.3,587.5 435.3,591.3 440.2,585 445.2,563.3 450.8,553.3 455.8,560 460.3,572.5 465.8,565.8 470.8,559.2 475.8,540.8 480.8,531.7 485.8,519.5 490.8,521.2 495.7,526.3 500.7,525 505.7,523.7 510.7,520 515.7,525 520.7,535 525.7,554.2 530.5,565.8 535.5,570 540.5,576.7 545.5,581.3 550.8,581.2 556.2,567.5 561.2,560.8 565.8,557.5 571.2,565.8 576.2,578.3 581.2,595 586,596.3 591,588.3 596,581.7 600,583 605.8,582.5 610.8,580.8 615.8,577.5 620.8,573.7 625.8,566.7 630.8,558.3 635.8,551.7 640.8,540.8 645.7,526.3 650.7,522.8 655.7,520 661.3,523.7 666.3,520.8 671.3,523 676.3,525.8 681.3,530 686.3,535.8 691.3,557.5 696.3,580 701.7,599.7 706.7,592.5 711.2,580 716.2,567 721.2,564.7 726,568 731,568.8 736,558.3 740.8,544.2 745.8,531.3 750.8,530 755.8,526.7 760.8,524.2 766.7,517.5 771.3,518 776.3,517.5 781.3,516.7 786.3,514.5 791.3,518.3 796.3,521.2 800.8,523.8 806.2,520.8 811.2,517.2 816.2,516.7 821.2,524.2 826.2,535.8 831.7,544.7 836.2,543.8 841,546.7 846,556.7 851,577.5 856,588.3 862.2,598.7"/>
<polyline fill="none" stroke="#3b8df1" stroke-width="1.4" stroke-linejoin="round" clip-path="url(#inband)" points="4.2,598.3 10,589.2 16.7,587.5 25,600 30,600 40.8,575 45,561.7 50,561.2 58.3,556.7 63.3,540.8 70,524.2 75,519.7 81.7,522.5 88.3,525.8 96.7,528.3 103.3,526.7 113.3,517.5 119.2,513.3 125,518.3 131.7,530 140,543.3 146.7,560 155,578.3 160,583 165,566.7 170,554.2 175,547.5 180,556.7 185,572.5 190,572 195,567.5 200,553.3 205,540 210,526.7 215,520 220,515.5 225,517 230,523.3 235,527.5 240,537.5 245,545.8 250,556.3 255,555 260.8,553.8 265.8,554.2 270.8,558.7 275.8,550 280.8,543.7 285.8,538.8 290.8,538.3 295.8,540.8 300.8,547.5 305.8,558.3 310.8,567.5 315.3,571.7 320,565.8 325,559.7 330.8,549.2 335.8,544.7 340.8,546.7 345.8,545.8 350.8,547.5 355.8,537.5 360.8,530 365.8,521.2 370,520.8 375,529.2 380.8,534.2 385.8,530.8 390.8,525.3 395.8,526.7 400,535 405,554.2 410.3,560 415.3,555.8 420.3,557.5 425.3,564.2 430.3,587.5 435.3,591.3 440.2,585 445.2,563.3 450.8,553.3 455.8,560 460.3,572.5 465.8,565.8 470.8,559.2 475.8,540.8 480.8,531.7 485.8,519.5 490.8,521.2 495.7,526.3 500.7,525 505.7,523.7 510.7,520 515.7,525 520.7,535 525.7,554.2 530.5,565.8 535.5,570 540.5,576.7 545.5,581.3 550.8,581.2 556.2,567.5 561.2,560.8 565.8,557.5 571.2,565.8 576.2,578.3 581.2,595 586,596.3 591,588.3 596,581.7 600,583 605.8,582.5 610.8,580.8 615.8,577.5 620.8,573.7 625.8,566.7 630.8,558.3 635.8,551.7 640.8,540.8 645.7,526.3 650.7,522.8 655.7,520 661.3,523.7 666.3,520.8 671.3,523 676.3,525.8 681.3,530 686.3,535.8 691.3,557.5 696.3,580 701.7,599.7 706.7,592.5 711.2,580 716.2,567 721.2,564.7 726,568 731,568.8 736,558.3 740.8,544.2 745.8,531.3 750.8,530 755.8,526.7 760.8,524.2 766.7,517.5 771.3,518 776.3,517.5 781.3,516.7 786.3,514.5 791.3,518.3 796.3,521.2 800.8,523.8 806.2,520.8 811.2,517.2 816.2,516.7 821.2,524.2 826.2,535.8 831.7,544.7 836.2,543.8 841,546.7 846,556.7 851,577.5 856,588.3 862.2,598.7"/>
<polyline fill="none" stroke="#fa7c2c" stroke-width="1.4" stroke-linejoin="round" clip-path="url(#outband)" points="4.2,587.8 10,593.3 15.8,591.7 21.7,595 28,598.5 35,597.5 41.7,583.3 48.3,570 55,562.5 60,557.5 66.7,545 73.3,528.3 78.3,522.5 85,522.5 93.3,525.8 101.7,527.5 110,525 118.3,517.5 124.2,515.8 130,519.2 136.7,528.3 143.3,541.7 150,558.3 155.8,571.7 160.8,578.3 165.8,577.5 171.7,566.7 176.7,555.8 180.8,553 185,560 190,567.5 195,570.3 200,563.3 205,551.7 210,540 215,528.3 220,521.7 225,518.3 230,518.7 235,522.5 240,530 245,540 250,548 255,552.5 260.8,555 265.8,554.5 273.3,555 280,551.7 285.8,545 290.8,540.8 295.8,539.5 300.8,542 305.8,549.2 310.8,559.2 315.8,566.7 320.3,568.3 325,565.8 330,558.3 335,550.8 340,546.7 345.8,545.5 350.8,546.3 355.8,543.3 360.8,538.3 365.8,529.2 370,524.2 375,523.3 380,527.5 385,531.2 390.8,530 395.8,528 400,530 405,540.8 410.3,550.8 415.3,556.3 420.3,558 425.8,559.2 430.3,570.8 435.3,580.8 440.2,587.2 445.2,580.8 450.8,567.5 455.8,559.2 460.8,562.5 465.8,566.7 470.8,566.3 475.8,555.8 480.8,544.2 485.8,531.7 490.8,524.2 495.7,522.2 500.7,524.2 505.7,525 510.7,523 515.7,522.5 521.7,527.5 525.7,539.2 530.5,552.5 535.5,563.3 540.5,570.8 545.5,575.8 551.7,579.7 556.2,576.7 561.2,569.2 565.8,562.5 570.8,561.3 576.2,567 581.2,579.2 586,590 591,593.3 596,588.8 600,585.8 605.8,583.3 610.8,582.2 615.8,580 620.8,577 625.8,572.5 630.8,565.8 635.8,558.3 640.8,550 645.7,539.2 650.7,529.2 655.7,523.3 661.3,521.7 666.3,521.7 671.3,522.2 676.3,522.8 681.3,525.8 686.3,530 691.3,540.8 696.3,557.5 700.8,578.3 705.8,590 710,590.8 715,580 721.2,569.2 726,566.7 731,567.2 736,564.2 740.8,556 745.8,544 750.8,535.8 755.8,530 760.8,527 766.7,522.5 771.3,519.7 776.3,518 781.3,517.5 786.3,516.7 791.3,516.3 796.3,517.5 801.3,521.2 806.2,522.2 811.2,520.8 816.2,518.7 821.2,519.7 826.2,525.8 831.2,535.8 836.2,542 841,545 846,549.2 851,560 856,574.2 862.2,588.3"/>
<polyline fill="none" stroke="#e6653a" stroke-width="1.4" stroke-linejoin="round" clip-path="url(#inband)" points="4.2,587.8 10,593.3 15.8,591.7 21.7,595 28,598.5 35,597.5 41.7,583.3 48.3,570 55,562.5 60,557.5 66.7,545 73.3,528.3 78.3,522.5 85,522.5 93.3,525.8 101.7,527.5 110,525 118.3,517.5 124.2,515.8 130,519.2 136.7,528.3 143.3,541.7 150,558.3 155.8,571.7 160.8,578.3 165.8,577.5 171.7,566.7 176.7,555.8 180.8,553 185,560 190,567.5 195,570.3 200,563.3 205,551.7 210,540 215,528.3 220,521.7 225,518.3 230,518.7 235,522.5 240,530 245,540 250,548 255,552.5 260.8,555 265.8,554.5 273.3,555 280,551.7 285.8,545 290.8,540.8 295.8,539.5 300.8,542 305.8,549.2 310.8,559.2 315.8,566.7 320.3,568.3 325,565.8 330,558.3 335,550.8 340,546.7 345.8,545.5 350.8,546.3 355.8,543.3 360.8,538.3 365.8,529.2 370,524.2 375,523.3 380,527.5 385,531.2 390.8,530 395.8,528 400,530 405,540.8 410.3,550.8 415.3,556.3 420.3,558 425.8,559.2 430.3,570.8 435.3,580.8 440.2,587.2 445.2,580.8 450.8,567.5 455.8,559.2 460.8,562.5 465.8,566.7 470.8,566.3 475.8,555.8 480.8,544.2 485.8,531.7 490.8,524.2 495.7,522.2 500.7,524.2 505.7,525 510.7,523 515.7,522.5 521.7,527.5 525.7,539.2 530.5,552.5 535.5,563.3 540.5,570.8 545.5,575.8 551.7,579.7 556.2,576.7 561.2,569.2 565.8,562.5 570.8,561.3 576.2,567 581.2,579.2 586,590 591,593.3 596,588.8 600,585.8 605.8,583.3 610.8,582.2 615.8,580 620.8,577 625.8,572.5 630.8,565.8 635.8,558.3 640.8,550 645.7,539.2 650.7,529.2 655.7,523.3 661.3,521.7 666.3,521.7 671.3,522.2 676.3,522.8 681.3,525.8 686.3,530 691.3,540.8 696.3,557.5 700.8,578.3 705.8,590 710,590.8 715,580 721.2,569.2 726,566.7 731,567.2 736,564.2 740.8,556 745.8,544 750.8,535.8 755.8,530 760.8,527 766.7,522.5 771.3,519.7 776.3,518 781.3,517.5 786.3,516.7 791.3,516.3 796.3,517.5 801.3,521.2 806.2,522.2 811.2,520.8 816.2,518.7 821.2,519.7 826.2,525.8 831.2,535.8 836.2,542 841,545 846,549.2 851,560 856,574.2 862.2,588.3"/>
<line x1="593.6" y1="129.9" x2="998.2" y2="129.9" stroke="#000" stroke-width="3.6" stroke-linecap="round"/>
<polygon points="574.5,129.9 592.3,121.2 592.3,138.6" fill="#000" stroke="#000" stroke-width="2.6" stroke-linejoin="round"/>
<line x1="713.6" y1="147.1" x2="1014" y2="147.1" stroke="#000" stroke-width="3.6" stroke-linecap="round"/>
<polygon points="694.5,147.1 712.3,138.4 712.3,155.8" fill="#000" stroke="#000" stroke-width="2.6" stroke-linejoin="round"/>
<line x1="760.9" y1="195.3" x2="1051.2" y2="195.3" stroke="#000" stroke-width="3.6" stroke-linecap="round"/>
<polygon points="741.8,195.3 759.6,186.6 759.6,204" fill="#000" stroke="#000" stroke-width="2.6" stroke-linejoin="round"/>
<line x1="383" y1="304.6" x2="614" y2="227.9" stroke="#000" stroke-width="3.7" stroke-linecap="round"/>
<polygon points="630.4,222.2 610.3,219.6 616.4,236.2" fill="#000" stroke="#000" stroke-width="2.4" stroke-linejoin="round"/>
<rect x="272.5" y="306.5" width="141.8" height="25.3" rx="3.5" ry="3.5" fill="#fff" stroke="#000" stroke-width="3.1"/>
<text x="277.6" y="325.3" font-size="19.6" fill="#000" font-weight="normal" text-anchor="start" textLength="130" lengthAdjust="spacingAndGlyphs" >Support targets</text>
<g stroke="#4f4f4f" stroke-width="1.1">
<line x1="4" y1="403.6" x2="1197" y2="403.6"/>
<line x1="4" y1="507.3" x2="1197" y2="507.3"/>
<line x1="4" y1="606" x2="1197" y2="606"/>
<line x1="1141.5" y1="44" x2="1141.5" y2="635"/>
<line x1="40.3" y1="606" x2="40.3" y2="609.5"/>
<line x1="140.5" y1="606" x2="140.5" y2="609.5"/>
<line x1="250.6" y1="606" x2="250.6" y2="609.5"/>
<line x1="345.6" y1="606" x2="345.6" y2="609.5"/>
<line x1="440.4" y1="606" x2="440.4" y2="609.5"/>
<line x1="556.2" y1="606" x2="556.2" y2="609.5"/>
<line x1="661.5" y1="606" x2="661.5" y2="609.5"/>
<line x1="760.8" y1="606" x2="760.8" y2="609.5"/>
<line x1="871.5" y1="606" x2="871.5" y2="609.5"/>
<line x1="976.7" y1="606" x2="976.7" y2="609.5"/>
<line x1="1087.4" y1="606" x2="1087.4" y2="609.5"/>
</g>
<g stroke="#4f4f4f" stroke-width="1">
<line x1="1141.5" y1="70" x2="1146" y2="70"/>
<line x1="1141.5" y1="109.6" x2="1146" y2="109.6"/>
<line x1="1141.5" y1="149.4" x2="1146" y2="149.4"/>
<line x1="1141.5" y1="189.2" x2="1146" y2="189.2"/>
<line x1="1141.5" y1="228.6" x2="1146" y2="228.6"/>
<line x1="1141.5" y1="268.4" x2="1146" y2="268.4"/>
<line x1="1141.5" y1="308.5" x2="1146" y2="308.5"/>
<line x1="1141.5" y1="348.4" x2="1146" y2="348.4"/>
<line x1="1141.5" y1="388.2" x2="1146" y2="388.2"/>
<line x1="1141.5" y1="433.3" x2="1146" y2="433.3"/>
<line x1="1141.5" y1="479.3" x2="1146" y2="479.3"/>
<line x1="1141.5" y1="529.5" x2="1146" y2="529.5"/>
<line x1="1141.5" y1="568.3" x2="1146" y2="568.3"/>
</g>
<text x="1151.6" y="74.3" font-size="12" fill="#5a5a5d" font-weight="normal" text-anchor="start" textLength="28" lengthAdjust="spacingAndGlyphs" >10.00</text>
<text x="1151.6" y="113.9" font-size="12" fill="#5a5a5d" font-weight="normal" text-anchor="start" textLength="22" lengthAdjust="spacingAndGlyphs" >9.00</text>
<text x="1151.6" y="153.7" font-size="12" fill="#5a5a5d" font-weight="normal" text-anchor="start" textLength="22" lengthAdjust="spacingAndGlyphs" >8.00</text>
<text x="1151.6" y="193.5" font-size="12" fill="#5a5a5d" font-weight="normal" text-anchor="start" textLength="22" lengthAdjust="spacingAndGlyphs" >7.00</text>
<text x="1151.6" y="232.9" font-size="12" fill="#5a5a5d" font-weight="normal" text-anchor="start" textLength="22" lengthAdjust="spacingAndGlyphs" >6.00</text>
<text x="1151.6" y="272.7" font-size="12" fill="#5a5a5d" font-weight="normal" text-anchor="start" textLength="22" lengthAdjust="spacingAndGlyphs" >5.00</text>
<text x="1151.6" y="312.8" font-size="12" fill="#5a5a5d" font-weight="normal" text-anchor="start" textLength="22" lengthAdjust="spacingAndGlyphs" >4.00</text>
<text x="1151.6" y="352.7" font-size="12" fill="#5a5a5d" font-weight="normal" text-anchor="start" textLength="22" lengthAdjust="spacingAndGlyphs" >3.00</text>
<text x="1151.6" y="392.5" font-size="12" fill="#5a5a5d" font-weight="normal" text-anchor="start" textLength="22" lengthAdjust="spacingAndGlyphs" >2.00</text>
<text x="1151.6" y="437.6" font-size="12" fill="#5a5a5d" font-weight="normal" text-anchor="start" textLength="22" lengthAdjust="spacingAndGlyphs" >0.50</text>
<text x="1151.6" y="483.6" font-size="12" fill="#5a5a5d" font-weight="normal" text-anchor="start" textLength="22" lengthAdjust="spacingAndGlyphs" >0.00</text>
<text x="1151.6" y="533.8" font-size="12" fill="#5a5a5d" font-weight="normal" text-anchor="start" textLength="28.5" lengthAdjust="spacingAndGlyphs" >80.00</text>
<text x="1151.6" y="572.6" font-size="12" fill="#5a5a5d" font-weight="normal" text-anchor="start" textLength="28.5" lengthAdjust="spacingAndGlyphs" >40.00</text>
<text x="30.65" y="624.2" font-size="11.8" fill="#5a5a5d" font-weight="normal" text-anchor="start" textLength="18.7" lengthAdjust="spacingAndGlyphs" >Nov</text>
<text x="130.75" y="624.2" font-size="11.8" fill="#5a5a5d" font-weight="normal" text-anchor="start" textLength="18.9" lengthAdjust="spacingAndGlyphs" >Dec</text>
<text x="236.55" y="624.2" font-size="11.8" fill="#3c3f46" font-weight="bold" text-anchor="start" textLength="25.7" lengthAdjust="spacingAndGlyphs" >2021</text>
<text x="336.3" y="624.2" font-size="11.8" fill="#5a5a5d" font-weight="normal" text-anchor="start" textLength="18" lengthAdjust="spacingAndGlyphs" >Feb</text>
<text x="430.95" y="624.2" font-size="11.8" fill="#5a5a5d" font-weight="normal" text-anchor="start" textLength="18.3" lengthAdjust="spacingAndGlyphs" >Mar</text>
<text x="547.25" y="624.2" font-size="11.8" fill="#5a5a5d" font-weight="normal" text-anchor="start" textLength="17.3" lengthAdjust="spacingAndGlyphs" >Apr</text>
<text x="651.2" y="624.2" font-size="11.8" fill="#5a5a5d" font-weight="normal" text-anchor="start" textLength="20" lengthAdjust="spacingAndGlyphs" >May</text>
<text x="752" y="624.2" font-size="11.8" fill="#5a5a5d" font-weight="normal" text-anchor="start" textLength="17" lengthAdjust="spacingAndGlyphs" >Jun</text>
<text x="864.05" y="624.2" font-size="11.8" fill="#5a5a5d" font-weight="normal" text-anchor="start" textLength="14.3" lengthAdjust="spacingAndGlyphs" >Jul</text>
<text x="967.25" y="624.2" font-size="11.8" fill="#5a5a5d" font-weight="normal" text-anchor="start" textLength="18.3" lengthAdjust="spacingAndGlyphs" >Aug</text>
<text x="1078.1" y="624.2" font-size="11.8" fill="#5a5a5d" font-weight="normal" text-anchor="start" textLength="18" lengthAdjust="spacingAndGlyphs" >Sep</text>
<rect x="1154.3" y="50.3" width="29.6" height="19.6" rx="3" ry="3" fill="#fff" stroke="#dcdfe6" stroke-width="1"/>
<text x="1159.2" y="64.4" font-size="11.5" fill="#4a4e59" font-weight="normal" text-anchor="start" textLength="20.2" lengthAdjust="spacingAndGlyphs" >USD</text>
<path d="M1141.5,98.3 H1177.6 a2,2 0 0 1 2,2 V112.3 a2,2 0 0 1 -2,2 H1141.5 Z" fill="#2196f3"/>
<line x1="1142" y1="106.3" x2="1146.5" y2="106.3" stroke="#fff" stroke-width="1" opacity="0.85"/>
<text x="1151.3" y="110.5" font-size="12" fill="#fff" font-weight="normal" text-anchor="start" textLength="22" lengthAdjust="spacingAndGlyphs" stroke="#fff" stroke-width="0.45">8.83</text>
<path d="M1106.4,115.2 H1141.5 V131 H1106.4 a2,2 0 0 1 -2,-2 V117.2 a2,2 0 0 1 2,-2 Z" fill="#d2504a"/>
<text x="1108.3" y="127.4" font-size="12" fill="#fff" font-weight="normal" text-anchor="start" textLength="28.5" lengthAdjust="spacingAndGlyphs" stroke="#fff" stroke-width="0.45">BNED</text>
<path d="M1116,131.2 H1177.6 a2,2 0 0 1 2,2 V144.3 a2,2 0 0 1 -2,2 H1116 a2,2 0 0 1 -2,-2 V133.2 a2,2 0 0 1 2,-2 Z" fill="#fb8c00"/>
<text x="1119.6" y="143" font-size="12" fill="#fff" font-weight="normal" text-anchor="start" textLength="17" lengthAdjust="spacingAndGlyphs" stroke="#fff" stroke-width="0.45">Pre</text>
<line x1="1141.5" y1="138.8" x2="1146" y2="138.8" stroke="#fff" stroke-width="1" opacity="0.85"/>
<text x="1151.3" y="143" font-size="12" fill="#fff" font-weight="normal" text-anchor="start" textLength="22" lengthAdjust="spacingAndGlyphs" stroke="#fff" stroke-width="0.45">8.47</text>
<path d="M1141.5,434.3 H1177.8 a2,2 0 0 1 2,2 V446.9 a2,2 0 0 1 -2,2 H1141.5 Z" fill="#f8740c"/>
<line x1="1142" y1="441.6" x2="1146.5" y2="441.6" stroke="#fff" stroke-width="1" opacity="0.85"/>
<text x="1151.3" y="445.8" font-size="12" fill="#fff" font-weight="normal" text-anchor="start" textLength="22" lengthAdjust="spacingAndGlyphs" stroke="#fff" stroke-width="0.45">0.39</text>
<path d="M1141.5,451.5 H1177.8 a2,2 0 0 1 2,2 V463.7 a2,2 0 0 1 -2,2 H1141.5 Z" fill="#2196f3"/>
<line x1="1142" y1="458.6" x2="1146.5" y2="458.6" stroke="#fff" stroke-width="1" opacity="0.85"/>
<text x="1151.3" y="462.8" font-size="12" fill="#fff" font-weight="normal" text-anchor="start" textLength="22" lengthAdjust="spacingAndGlyphs" stroke="#fff" stroke-width="0.45">0.23</text>
<path d="M1141.5,488 H1183.4 a2,2 0 0 1 2,2 V500 a2,2 0 0 1 -2,2 H1141.5 Z" fill="#ef5350"/>
<line x1="1142" y1="495" x2="1146.5" y2="495" stroke="#fff" stroke-width="1" opacity="0.85"/>
<text x="1151.3" y="499.2" font-size="12" fill="#fff" font-weight="normal" text-anchor="start" textLength="28.5" lengthAdjust="spacingAndGlyphs" stroke="#fff" stroke-width="0.45">−0.16</text>
<path d="M1141.5,575.7 H1183.4 a2,2 0 0 1 2,2 V588.3 a2,2 0 0 1 -2,2 H1141.5 Z" fill="#f8740c"/>
<line x1="1142" y1="583" x2="1146.5" y2="583" stroke="#fff" stroke-width="1" opacity="0.85"/>
<text x="1151.3" y="587.2" font-size="12" fill="#fff" font-weight="normal" text-anchor="start" textLength="28.5" lengthAdjust="spacingAndGlyphs" stroke="#fff" stroke-width="0.45">19.04</text>
<path d="M1141.5,592 H1177.2 a2,2 0 0 1 2,2 V604 a2,2 0 0 1 -2,2 H1141.5 Z" fill="#2196f3"/>
<line x1="1142" y1="599" x2="1146.5" y2="599" stroke="#fff" stroke-width="1" opacity="0.85"/>
<text x="1151.3" y="603.2" font-size="12" fill="#fff" font-weight="normal" text-anchor="start" textLength="22" lengthAdjust="spacingAndGlyphs" stroke="#fff" stroke-width="0.45">9.24</text>
<g stroke="#2a2e39" fill="none" stroke-width="1.3">
<circle cx="1169" cy="620.2" r="4.7"/>
<line x1="1174.2" y1="620.2" x2="1176.6" y2="620.2" stroke-width="1.6"/>
<line x1="1172.68" y1="623.88" x2="1174.37" y2="625.57" stroke-width="1.6"/>
<line x1="1169" y1="625.4" x2="1169" y2="627.8" stroke-width="1.6"/>
<line x1="1165.32" y1="623.88" x2="1163.63" y2="625.57" stroke-width="1.6"/>
<line x1="1163.8" y1="620.2" x2="1161.4" y2="620.2" stroke-width="1.6"/>
<line x1="1165.32" y1="616.52" x2="1163.63" y2="614.83" stroke-width="1.6"/>
<line x1="1169" y1="615" x2="1169" y2="612.6" stroke-width="1.6"/>
<line x1="1172.68" y1="616.52" x2="1174.37" y2="614.83" stroke-width="1.6"/>
</g>
<text x="14.3" y="66" font-size="15" fill="#484b52" font-weight="normal" text-anchor="start" textLength="37.7" lengthAdjust="spacingAndGlyphs" >BNED</text>
<path d="M77.2,51.3 H88.4 V69.4 H77.2 a9.05,9.05 0 0 1 0,-18.1 Z" fill="#ffeeda"/>
<path d="M88.4,51.3 H100.1 a9.05,9.05 0 0 1 0,18.1 H88.4 Z" fill="#f8bcd3"/>
<clipPath id="sunclip"><rect x="70" y="50" width="20" height="12.9"/></clipPath>
<circle cx="79.3" cy="61.8" r="3.6" fill="#fb8c07" clip-path="url(#sunclip)"/>
<g stroke="#fb8c07" stroke-width="1.6" stroke-linecap="round"><line x1="72.7" y1="59.8" x2="74.1" y2="60.4"/><line x1="84.5" y1="60.4" x2="85.9" y2="59.8"/><line x1="76.4" y1="55.5" x2="77.2" y2="56.8"/><line x1="81.4" y1="56.8" x2="82.2" y2="55.5"/></g>
<g fill="none" stroke="#c2185b" stroke-width="1.7" stroke-linecap="round"><path d="M93.6,59.2 C94.8,57.1 96.7,57.1 98.1,58.1 C99.7,59.3 101.3,59.2 102.6,57.4"/><path d="M93.6,63.3 C94.8,61.2 96.7,61.2 98.1,62.2 C99.7,63.4 101.3,63.3 102.6,61.5"/></g>
<text x="126.1" y="66" font-size="13" fill="#58585c" font-weight="normal" text-anchor="start" textLength="9.5" lengthAdjust="spacingAndGlyphs" >O</text>
<text x="136.2" y="66" font-size="13" fill="#7f3b3b" font-weight="normal" text-anchor="start" textLength="25.4" lengthAdjust="spacingAndGlyphs" >8.84</text>
<text x="169" y="66" font-size="13" fill="#58585c" font-weight="normal" text-anchor="start" textLength="8.6" lengthAdjust="spacingAndGlyphs" >H</text>
<text x="178.2" y="66" font-size="13" fill="#7f3b3b" font-weight="normal" text-anchor="start" textLength="25.1" lengthAdjust="spacingAndGlyphs" >8.87</text>
<text x="211.1" y="66" font-size="13" fill="#58585c" font-weight="normal" text-anchor="start" textLength="6.7" lengthAdjust="spacingAndGlyphs" >L</text>
<text x="218.4" y="66" font-size="13" fill="#7f3b3b" font-weight="normal" text-anchor="start" textLength="24.9" lengthAdjust="spacingAndGlyphs" >8.66</text>
<text x="251.2" y="66" font-size="13" fill="#58585c" font-weight="normal" text-anchor="start" textLength="8.2" lengthAdjust="spacingAndGlyphs" >C</text>
<text x="260" y="66" font-size="13" fill="#7f3b3b" font-weight="normal" text-anchor="start" textLength="25" lengthAdjust="spacingAndGlyphs" >8.67</text>
<text x="292.8" y="66" font-size="13" fill="#7f3b3b" font-weight="normal" text-anchor="start" textLength="32" lengthAdjust="spacingAndGlyphs" >−0.19</text>
<text x="330.4" y="66" font-size="13" fill="#7f3b3b" font-weight="normal" text-anchor="start" textLength="49.5" lengthAdjust="spacingAndGlyphs" >(−2.14%)</text>
<rect x="12.5" y="77.5" width="43" height="24" rx="4" ry="4" fill="#fff" stroke="#f0625d" stroke-width="1.1"/>
<text x="20.8" y="93.6" font-size="13.5" fill="#ef5350" font-weight="normal" text-anchor="start" textLength="25.5" lengthAdjust="spacingAndGlyphs" >8.30</text>
<text x="64.7" y="93.4" font-size="12" fill="#62656d" font-weight="normal" text-anchor="start" textLength="20.6" lengthAdjust="spacingAndGlyphs" >1.05</text>
<rect x="93.8" y="77.5" width="43" height="24" rx="4" ry="4" fill="#fff" stroke="#3d6dfb" stroke-width="1.1"/>
<text x="102.5" y="93.6" font-size="13.5" fill="#2962ff" font-weight="normal" text-anchor="start" textLength="25.5" lengthAdjust="spacingAndGlyphs" >9.35</text>
<text x="14" y="122.4" font-size="12.5" fill="#58585c" font-weight="normal" text-anchor="start" textLength="23.5" lengthAdjust="spacingAndGlyphs" >EMA</text>
<text x="46.7" y="122.4" font-size="13" fill="#2196f3" font-weight="normal" text-anchor="start" textLength="25.3" lengthAdjust="spacingAndGlyphs" >8.83</text>
<text x="13.8" y="425" font-size="12.5" fill="#58585c" font-weight="normal" text-anchor="start" textLength="33" lengthAdjust="spacingAndGlyphs" >MACD</text>
<text x="56.3" y="425" font-size="13" fill="#ef5350" font-weight="normal" text-anchor="start" textLength="31.7" lengthAdjust="spacingAndGlyphs" >−0.16</text>
<text x="95" y="425" font-size="13" fill="#2196f3" font-weight="normal" text-anchor="start" textLength="25.5" lengthAdjust="spacingAndGlyphs" >0.23</text>
<text x="128" y="425" font-size="13" fill="#f57c00" font-weight="normal" text-anchor="start" textLength="25" lengthAdjust="spacingAndGlyphs" >0.39</text>
<rect x="8.3" y="514" width="115.7" height="22.7" fill="#fff" opacity="0.6"/>
<text x="13.3" y="529.6" font-size="13.5" fill="#58585c" font-weight="normal" text-anchor="start" textLength="32.5" lengthAdjust="spacingAndGlyphs" >Stoch</text>
<text x="55" y="529.6" font-size="13" fill="#2196f3" font-weight="normal" text-anchor="start" textLength="25.8" lengthAdjust="spacingAndGlyphs" >9.24</text>
<text x="89.2" y="529.6" font-size="13" fill="#f57c00" font-weight="normal" text-anchor="start" textLength="30.8" lengthAdjust="spacingAndGlyphs" >19.04</text>
<circle cx="28.4" cy="581.6" r="17.4" fill="#000" opacity="0.05"/>
<circle cx="28.4" cy="581.3" r="16.4" fill="#fff"/>
<g fill="#2962ff"><circle cx="21" cy="583.9" r="3.6"/><circle cx="26.6" cy="579.4" r="4.6"/><circle cx="31.6" cy="578.6" r="2.6"/><circle cx="35.6" cy="583.1" r="4.5"/><rect x="20.5" y="581" width="15.5" height="6.6"/></g>
<polyline points="17.2,586.6 25.9,579.2 31,585.3 37.4,578.7" fill="none" stroke="#fff" stroke-width="1.1"/>
<rect x="4" y="3" width="1193" height="40" fill="#fff"/>
<rect x="4" y="2.4" width="1193" height="1.1" fill="#e4e6ec"/>
<g stroke="#e1e4ec" stroke-width="1.1">
<line x1="4" y1="43.3" x2="1197" y2="43.3"/>
<line x1="108" y1="3.5" x2="108" y2="43"/>
<line x1="148" y1="3.5" x2="148" y2="43"/>
<line x1="188" y1="3.5" x2="188" y2="43"/>
<line x1="228" y1="3.5" x2="228" y2="43"/>
<line x1="268.6" y1="3.5" x2="268.6" y2="43"/>
<line x1="309.6" y1="3.5" x2="309.6" y2="43"/>
<line x1="349.6" y1="3.5" x2="349.6" y2="43"/>
<line x1="389.6" y1="3.5" x2="389.6" y2="43"/>
<line x1="430" y1="3.5" x2="430" y2="43"/>
<line x1="495.5" y1="3.5" x2="495.5" y2="43"/>
<line x1="826.7" y1="3.5" x2="826.7" y2="43"/>
<line x1="866.6" y1="3.5" x2="866.6" y2="43"/>
<line x1="993.7" y1="3.5" x2="993.7" y2="43"/>
<line x1="1034.2" y1="3.5" x2="1034.2" y2="43"/>
<line x1="1074.6" y1="3.5" x2="1074.6" y2="43"/>
</g>
<text x="14" y="27.6" font-size="14.2" fill="#131722" font-weight="normal" text-anchor="start" textLength="35" lengthAdjust="spacingAndGlyphs" stroke="#131722" stroke-width="0.55">BNED</text>
<text x="124.2" y="28" font-size="14.2" fill="#131722" font-weight="normal" text-anchor="start" textLength="7.4" lengthAdjust="spacingAndGlyphs" stroke="#131722" stroke-width="0.5">D</text>
<g fill="none" stroke="#2f3340" stroke-width="1.15" stroke-linecap="round" stroke-linejoin="round">
<rect x="161.8" y="14.8" width="4.6" height="14.8" rx="0.6"/><path d="M164.1,12.6 V14.8 M164.1,29.6 V32.7"/>
<rect x="170" y="18" width="4.6" height="8.7" rx="0.6"/><path d="M172.3,15.8 V18 M172.3,26.7 V29.7"/>
<circle cx="207.5" cy="23" r="9.3"/><path d="M202.6,23 H212.4 M207.5,18.1 V27.9"/>
<path d="M252.6,16.6 C252.6,14.4 251.5,13.4 250,13.4 C248.3,13.4 247.3,14.6 247.3,16.6 L247.3,27.4 C247.3,29.5 246.2,30.7 244.5,30.7 C243,30.7 242,29.8 241.8,28.4 M243.7,20.3 H250.7 M250.2,26.1 L255,30.9 M255,26.1 L250.2,30.9"/>
<path d="M279.4,30.6 V25.4 H283.4 V19.1 H288 V22.1 H292.3 V16 H296.6 V30.6 Z M283.4,25.4 V30.6 M288,22.1 V30.6 M292.3,22.1 V30.6"/>
<path d="M320.4,20.6 L325.3,15.4 L332,20.3 L338.3,14.4" stroke-width="1.3"/>
<path d="M321.2,27.4 V30.9 M325.4,23.4 V30.9 M329.5,25.4 V30.9 M333.7,27.4 V30.9 M338,23.4 V30.9" stroke-width="1.5" stroke-linecap="butt"/>
<path d="M377.2,23.5 A8.2,8.2 0 1 0 369.3,31.2"/>
<path d="M360.7,20.6 A4,4 0 1 1 366.8,15.1 M371.2,15.1 A4,4 0 1 1 377.3,20.6"/>
<path d="M369,18.1 V23.3 H365.6"/>
<path d="M370.9,29.5 H379.7 M375.3,25.1 V33.8"/>
<path d="M403.4,23.4 L409.8,17.8 V29 Z M412.1,23.4 L418.4,17.8 V29 Z"/>
<path d="M445.4,17.7 L441.4,21.4 L445.4,25.1 M441.6,21.4 H449 C452.3,21.4 454.2,23.8 454.2,27.8"/>
</g>
<path d="M478.8,17.7 L482.8,21.4 L478.8,25.1 M482.6,21.4 H475.2 C471.9,21.4 470,23.8 470,27.8" fill="none" stroke="#c3c6cf" stroke-width="1.15" stroke-linecap="round" stroke-linejoin="round"/>
<g fill="none" stroke="#2f3340" stroke-width="1.15" stroke-linecap="round" stroke-linejoin="round">
<rect x="837.6" y="14.9" width="18.5" height="16.5" rx="2.6" stroke="#50535e" stroke-width="1.25"/>
<path d="M878.3,30.5 H895.5 C898,30.5 899.3,28.5 898.8,26 C898.3,24 896.6,22.6 895.8,21.5 C895,17.5 891.5,14.7 887,14.7 C884,14.7 882,16 880.5,18 L876,22.6 C874.5,24.5 874,27 875.3,28.8 C876,29.8 877,30.5 878.3,30.5 Z" stroke-dasharray="3.1 2.2" stroke-width="1.35" stroke-linecap="butt"/>
<path d="M979.6,21.4 L983.2,24.7 L986.8,21.4" stroke-width="1.15"/>
<polygon points="1012.61,14.96 1012.86,12.59 1015.54,12.59 1015.79,14.96 1018.62,16.13 1020.48,14.63 1022.37,16.52 1020.87,18.38 1022.04,21.21 1024.41,21.46 1024.41,24.14 1022.04,24.39 1020.87,27.22 1022.37,29.08 1020.48,30.97 1018.62,29.47 1015.79,30.64 1015.54,33.01 1012.86,33.01 1012.61,30.64 1009.78,29.47 1007.92,30.97 1006.03,29.08 1007.53,27.22 1006.36,24.39 1003.99,24.14 1003.99,21.46 1006.36,21.21 1007.53,18.38 1006.03,16.52 1007.92,14.63 1009.78,16.13" stroke-linejoin="round" stroke-width="1.2"/>
<circle cx="1014.2" cy="22.8" r="3.1" stroke-width="1.2"/>
<path d="M1046,18.6 V15 H1049.6 M1046.2,15.2 L1050.8,19.8 M1058.6,15 H1062.2 V18.6 M1062,15.2 L1057.4,19.8 M1046,26.9 V30.5 H1049.6 M1046.2,30.3 L1050.8,25.7 M1058.6,30.5 H1062.2 V26.9 M1062,30.3 L1057.4,25.7" stroke-width="1.25"/>
<path d="M1085.5,15.6 H1088.2 L1089.6,13.6 H1098 L1099.4,15.6 H1102.5 A2,2 0 0 1 1104.5,17.6 V28.5 A2,2 0 0 1 1102.5,30.5 H1085.5 A2,2 0 0 1 1083.5,28.5 V17.6 A2,2 0 0 1 1085.5,15.6 Z"/>
<circle cx="1093.9" cy="23.2" r="4.2"/>
</g>
<text x="903.8" y="27.6" font-size="14" fill="#131722" font-weight="normal" text-anchor="start" textLength="62.2" lengthAdjust="spacingAndGlyphs" stroke="#131722" stroke-width="0.35">My Charts</text>
<rect x="1113.8" y="3.2" width="83.2" height="39.6" fill="#2962ff"/>
<text x="1131.4" y="28.6" font-size="15.5" fill="#fff" font-weight="normal" text-anchor="start" textLength="49" lengthAdjust="spacingAndGlyphs" stroke="#fff" stroke-width="0.3">Publish</text>
</svg>
</body></html>
